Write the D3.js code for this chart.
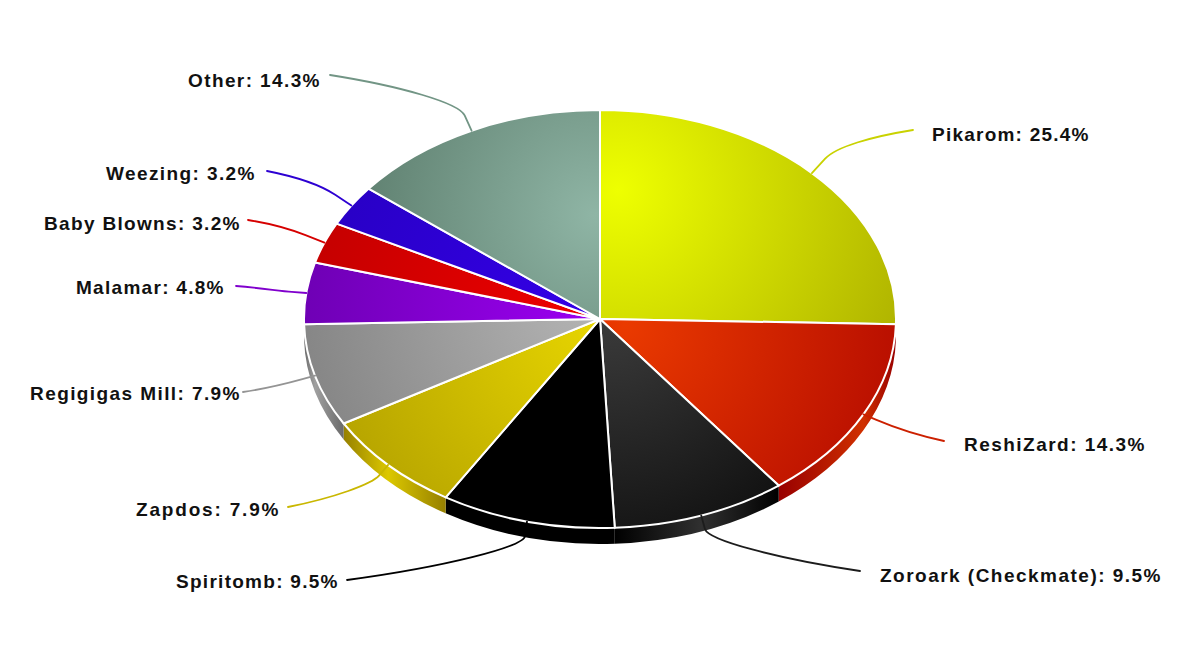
<!DOCTYPE html>
<html><head><meta charset="utf-8">
<script src="https://cdn.jsdelivr.net/npm/d3@7/dist/d3.min.js"></script>
<style>html,body{margin:0;padding:0;background:#fff}svg{display:block}</style>
</head><body><svg id="c" width="1200" height="652"></svg>
<script>
const categories=["Pikarom","ReshiZard","Zoroark (Checkmate)","Spiritomb","Zapdos","Regigigas Mill","Malamar","Baby Blowns","Weezing","Other"];
const counts=[16,9,6,6,5,5,3,2,2,9];
const percentLabels=["25.4%","14.3%","9.5%","9.5%","7.9%","7.9%","4.8%","3.2%","3.2%","14.3%"];
const lightColors=["#eeff00","#ea3a00","#3c3c3c","#000000","#e8d600","#b4b4b4","#9c00f2","#f00000","#3400e8","#8fb5a5"];
const darkColors=["#b0b400","#b80e00","#131313","#000000","#b5a300","#7e7e7e","#6e00b4","#c40000","#2800c4","#5f8070"];
const wallLight=["#b0b400","#d03000","#303030","#000000","#dcc800","#a0a0a0","#6e00b4","#c40000","#2800c4","#5f8070"];
const wallDark=["#b0b400","#980000","#000000","#000000","#968000","#6a6a6a","#6e00b4","#c40000","#2800c4","#5f8070"];
// gradient focus of each slice [x, y, radius] in px
const gradFocus=[[618,190,310],[625,325,280],[610,310,240],[600,320,230],[600,315,290],[590,300,340],[600,320,300],[600,320,300],[600,320,300],[595,215,240]];
// label boxes [left, right, centre y], connector end and knee
const labelBox=[[932,1089,135],[964,1145,445],[880,1161,576],[176,338,582],[136,279,510],[30,240,394],[76,224,288],[44,240,224],[106,255,174],[188,320,81]];
const connEnd=[[913,130],[944,441],[860,571],[347,580],[288,507],[243,392],[236,286],[248,220],[267,171],[330,75]];
const connKnee=[[836,147],[886,424],[708,540],[524,547],[372,484],[292,382],[280,291],[290,229],[322,186],[459,103]];

const svg=d3.select("#c"), defs=svg.append("defs");
const cx=600, cy=319, depth=16;
const rx=d3.scaleLinear().domain([0,1]).range([0,296]);
const ry=d3.scaleLinear().domain([0,1]).range([0,209]);
const px=a=>cx+rx(Math.sin(a)), py=a=>cy-ry(Math.cos(a));
const arcs=d3.pie().sort(null).value(d=>d)(counts);
const HALF=Math.PI/2, H3=3*Math.PI/2;

arcs.forEach((d,i)=>{
  const g=gradFocus[i];
  const rg=defs.append("radialGradient").attr("id","top"+i).attr("gradientUnits","userSpaceOnUse")
    .attr("cx",g[0]).attr("cy",g[1]).attr("r",g[2]);
  rg.append("stop").attr("offset",0).attr("stop-color",lightColors[i]);
  rg.append("stop").attr("offset",1).attr("stop-color",darkColors[i]);
});

// side walls
arcs.forEach((d,i)=>{
  const a0=Math.max(d.startAngle,HALF), a1=Math.min(d.endAngle,H3);
  if(a1<=a0) return;
  const xs=[px(a0),px(a1)], xl=Math.min(...xs), xr=Math.max(...xs);
  const mid=(d.startAngle+d.endAngle)/2;
  const off=Math.max(0,Math.min(1,(px(mid)-xl)/(xr-xl||1)));
  const lg=defs.append("linearGradient").attr("id","wall"+i).attr("gradientUnits","userSpaceOnUse")
    .attr("x1",xl).attr("x2",xr).attr("y1",0).attr("y2",0);
  lg.append("stop").attr("offset",0).attr("stop-color",wallDark[i]);
  lg.append("stop").attr("offset",off).attr("stop-color",wallLight[i]);
  lg.append("stop").attr("offset",1).attr("stop-color",wallDark[i]);
  const R=rx(1),S=ry(1);
  svg.append("path").attr("fill",`url(#wall${i})`)
    .attr("d",`M${px(a0)},${py(a0)}A${R},${S} 0 0 1 ${px(a1)},${py(a1)}L${px(a1)},${py(a1)+depth}A${R},${S} 0 0 0 ${px(a0)},${py(a0)+depth}Z`);
});

// top faces
arcs.forEach((d,i)=>{
  svg.append("path").attr("fill",`url(#top${i})`).attr("stroke","#fff").attr("stroke-width",2).attr("stroke-linejoin","round")
    .attr("d",`M${cx},${cy}L${px(d.startAngle)},${py(d.startAngle)}A${rx(1)},${ry(1)} 0 ${d.endAngle-d.startAngle>Math.PI?1:0} 1 ${px(d.endAngle)},${py(d.endAngle)}Z`);
});

// connectors
arcs.forEach((d,i)=>{
  const m=(d.startAngle+d.endAngle)/2, x=px(m), y=py(m);
  const [ex,ey]=connEnd[i], [kx,ky]=connKnee[i];
  const c1x=ex+(kx-ex)*0.55, c1y=ey+(ky-ey)*0.4;
  const k2x=kx+(x-kx)*0.45, k2y=ky+(y-ky)*0.45;
  svg.append("path").attr("fill","none").attr("stroke",i===3?"#000":(i===2?"#1c1c1c":d3.interpolateRgb(lightColors[i],darkColors[i])(0.6)))
    .attr("stroke-width",1.8).attr("stroke-linecap","round")
    .attr("d",`M${ex},${ey}C${c1x},${c1y} ${kx},${ky} ${k2x},${k2y}L${x},${y}`);
});

// labels
categories.forEach((c,i)=>{
  const b=labelBox[i];
  svg.append("text").attr("x",b[0]).attr("y",b[2]+5.7)
    .attr("textLength",b[1]-b[0]-0.5).attr("lengthAdjust","spacing")
    .attr("font-family","'Liberation Sans',Arial,sans-serif").attr("font-weight","bold").attr("font-size",19).attr("fill","#111")
    .text(`${c}: ${percentLabels[i]}`);
});
</script></body></html>
